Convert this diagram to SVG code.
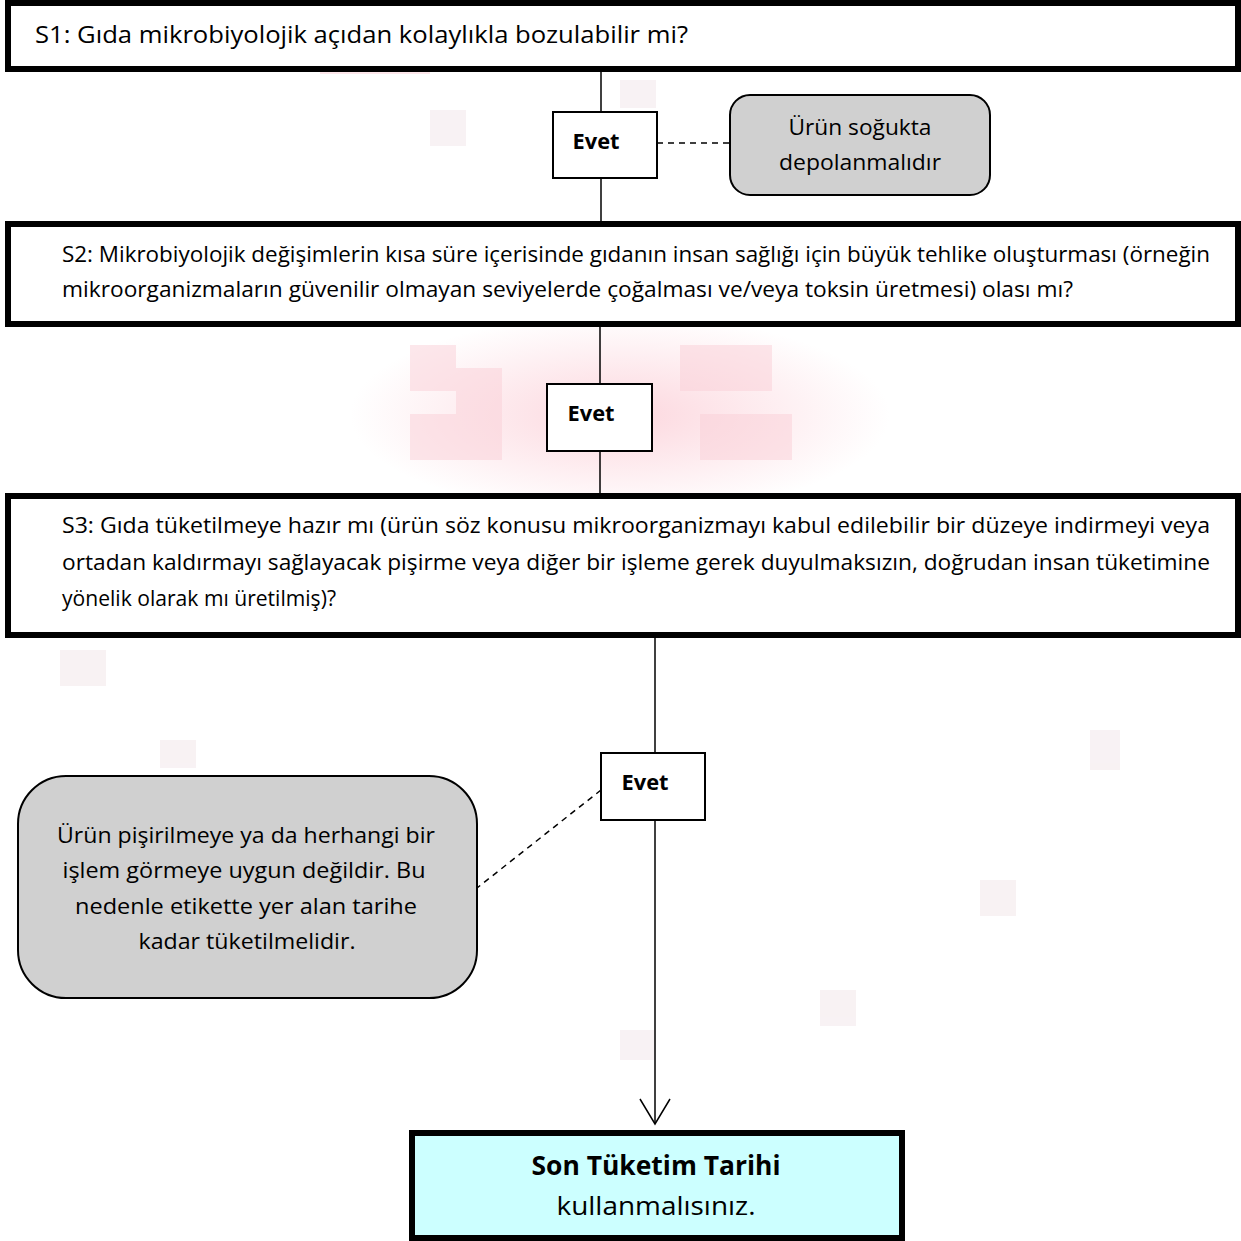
<svg xmlns="http://www.w3.org/2000/svg" width="1241" height="1241" viewBox="0 0 1241 1241">
<style>
  .q{fill:#ffffff;stroke:#000;stroke-width:6}
  .yes{fill:#ffffff;stroke:#000;stroke-width:2}
  .note{fill:#d0d0d0;stroke:#000;stroke-width:2}
  .t{font-family:"Open Sans","Noto Sans","Liberation Sans",sans-serif;font-size:22px;fill:#000}
  .tb{font-family:"Open Sans","Noto Sans","Liberation Sans",sans-serif;font-size:22px;font-weight:bold;fill:#000}
  .big{font-size:26px}
  .s1{font-size:23px}
  .c{text-anchor:middle}
  .ln{stroke:#000;stroke-width:1.5;fill:none}
  .dash{stroke:#000;stroke-width:1.5;fill:none;stroke-dasharray:6 5}
  .px{opacity:0.5}
</style>
<defs>
  <radialGradient id="wm" cx="0.5" cy="0.5" r="0.5">
    <stop offset="0" stop-color="#fbc6d0" stop-opacity="0.7"/>
    <stop offset="1" stop-color="#fbc6d0" stop-opacity="0"/>
  </radialGradient>
</defs>
<rect width="1241" height="1241" fill="#ffffff"/>
<g id="watermark">
  <ellipse cx="620" cy="415" rx="270" ry="100" fill="url(#wm)"/>
  <g class="px" fill="#fbd0d8">
    <rect x="410" y="345" width="46" height="46"/>
    <rect x="456" y="368" width="46" height="92"/>
    <rect x="410" y="414" width="46" height="46"/>
    <rect x="680" y="345" width="92" height="46"/>
    <rect x="700" y="414" width="92" height="46"/>
    <rect x="320" y="62" width="110" height="12"/>
  </g>
  <g class="px" fill="#f2e6e9">
    <rect x="430" y="110" width="36" height="36"/>
    <rect x="620" y="80" width="36" height="28"/>
    <rect x="60" y="650" width="46" height="36"/>
    <rect x="1090" y="730" width="30" height="40"/>
    <rect x="980" y="880" width="36" height="36"/>
    <rect x="820" y="990" width="36" height="36"/>
    <rect x="620" y="1030" width="36" height="30"/>
    <rect x="160" y="740" width="36" height="28"/>
  </g>
</g>
<g id="connectors">
  <line class="ln" x1="601" y1="70" x2="601" y2="112"/>
  <line class="ln" x1="601" y1="178" x2="601" y2="222"/>
  <line class="dash" x1="657" y1="143" x2="730" y2="143"/>
  <line class="ln" x1="600" y1="325" x2="600" y2="384"/>
  <line class="ln" x1="600" y1="451" x2="600" y2="495"/>
  <line class="ln" x1="655" y1="636" x2="655" y2="753"/>
  <line class="ln" x1="655" y1="820" x2="655" y2="1124"/>
  <path class="ln" d="M640,1099 L655,1124 L670,1099"/>
  <line class="dash" x1="601" y1="790" x2="477" y2="888"/>
</g>
<g id="s1">
  <rect class="q" x="8" y="3" width="1230" height="66"/>
  <text class="t s1" x="35" y="43" textLength="653" lengthAdjust="spacingAndGlyphs">S1: Gıda mikrobiyolojik açıdan kolaylıkla bozulabilir mi?</text>
</g>
<g id="evet1">
  <rect class="yes" x="553" y="112" width="104" height="66"/>
  <text class="tb c" x="596" y="149" textLength="47" lengthAdjust="spacingAndGlyphs">Evet</text>
</g>
<g id="note1">
  <rect class="note" x="730" y="95" width="260" height="100" rx="20"/>
  <text class="t c" x="860" y="135" textLength="143" lengthAdjust="spacingAndGlyphs">Ürün soğukta</text>
  <text class="t c" x="860" y="170" textLength="162" lengthAdjust="spacingAndGlyphs">depolanmalıdır</text>
</g>
<g id="s2">
  <rect class="q" x="8" y="224" width="1230" height="100"/>
  <text class="t" x="62" y="262" textLength="1148" lengthAdjust="spacingAndGlyphs">S2: Mikrobiyolojik değişimlerin kısa süre içerisinde gıdanın insan sağlığı için büyük tehlike oluşturması (örneğin</text>
  <text class="t" x="62" y="297" textLength="1011" lengthAdjust="spacingAndGlyphs">mikroorganizmaların güvenilir olmayan seviyelerde çoğalması ve/veya toksin üretmesi) olası mı?</text>
</g>
<g id="evet2">
  <rect class="yes" x="547" y="384" width="105" height="67"/>
  <text class="tb c" x="591" y="421" textLength="47" lengthAdjust="spacingAndGlyphs">Evet</text>
</g>
<g id="s3">
  <rect class="q" x="8" y="496" width="1230" height="139"/>
  <text class="t" x="62" y="533" textLength="1148" lengthAdjust="spacingAndGlyphs">S3: Gıda tüketilmeye hazır mı (ürün söz konusu mikroorganizmayı kabul edilebilir bir düzeye indirmeyi veya</text>
  <text class="t" x="62" y="570" textLength="1148" lengthAdjust="spacingAndGlyphs">ortadan kaldırmayı sağlayacak pişirme veya diğer bir işleme gerek duyulmaksızın, doğrudan insan tüketimine</text>
  <text class="t" x="62" y="606" textLength="274" lengthAdjust="spacingAndGlyphs">yönelik olarak mı üretilmiş)?</text>
</g>
<g id="evet3">
  <rect class="yes" x="601" y="753" width="104" height="67"/>
  <text class="tb c" x="645" y="790" textLength="47" lengthAdjust="spacingAndGlyphs">Evet</text>
</g>
<g id="note2">
  <rect class="note" x="18" y="776" width="459" height="222" rx="48"/>
  <text class="t c" x="246" y="843" textLength="378" lengthAdjust="spacingAndGlyphs">Ürün pişirilmeye ya da herhangi bir</text>
  <text class="t c" x="244" y="878" textLength="363" lengthAdjust="spacingAndGlyphs">işlem görmeye uygun değildir. Bu</text>
  <text class="t c" x="246" y="914" textLength="342" lengthAdjust="spacingAndGlyphs">nedenle etikette yer alan tarihe</text>
  <text class="t c" x="247" y="949" textLength="217" lengthAdjust="spacingAndGlyphs">kadar tüketilmelidir.</text>
</g>
<g id="result">
  <rect x="412" y="1133" width="490" height="105" fill="#ccffff" stroke="#000" stroke-width="6"/>
  <text class="tb big c" x="656" y="1175" textLength="249" lengthAdjust="spacingAndGlyphs">Son Tüketim Tarihi</text>
  <text class="t big c" x="656" y="1215" textLength="199" lengthAdjust="spacingAndGlyphs">kullanmalısınız.</text>
</g>
</svg>
